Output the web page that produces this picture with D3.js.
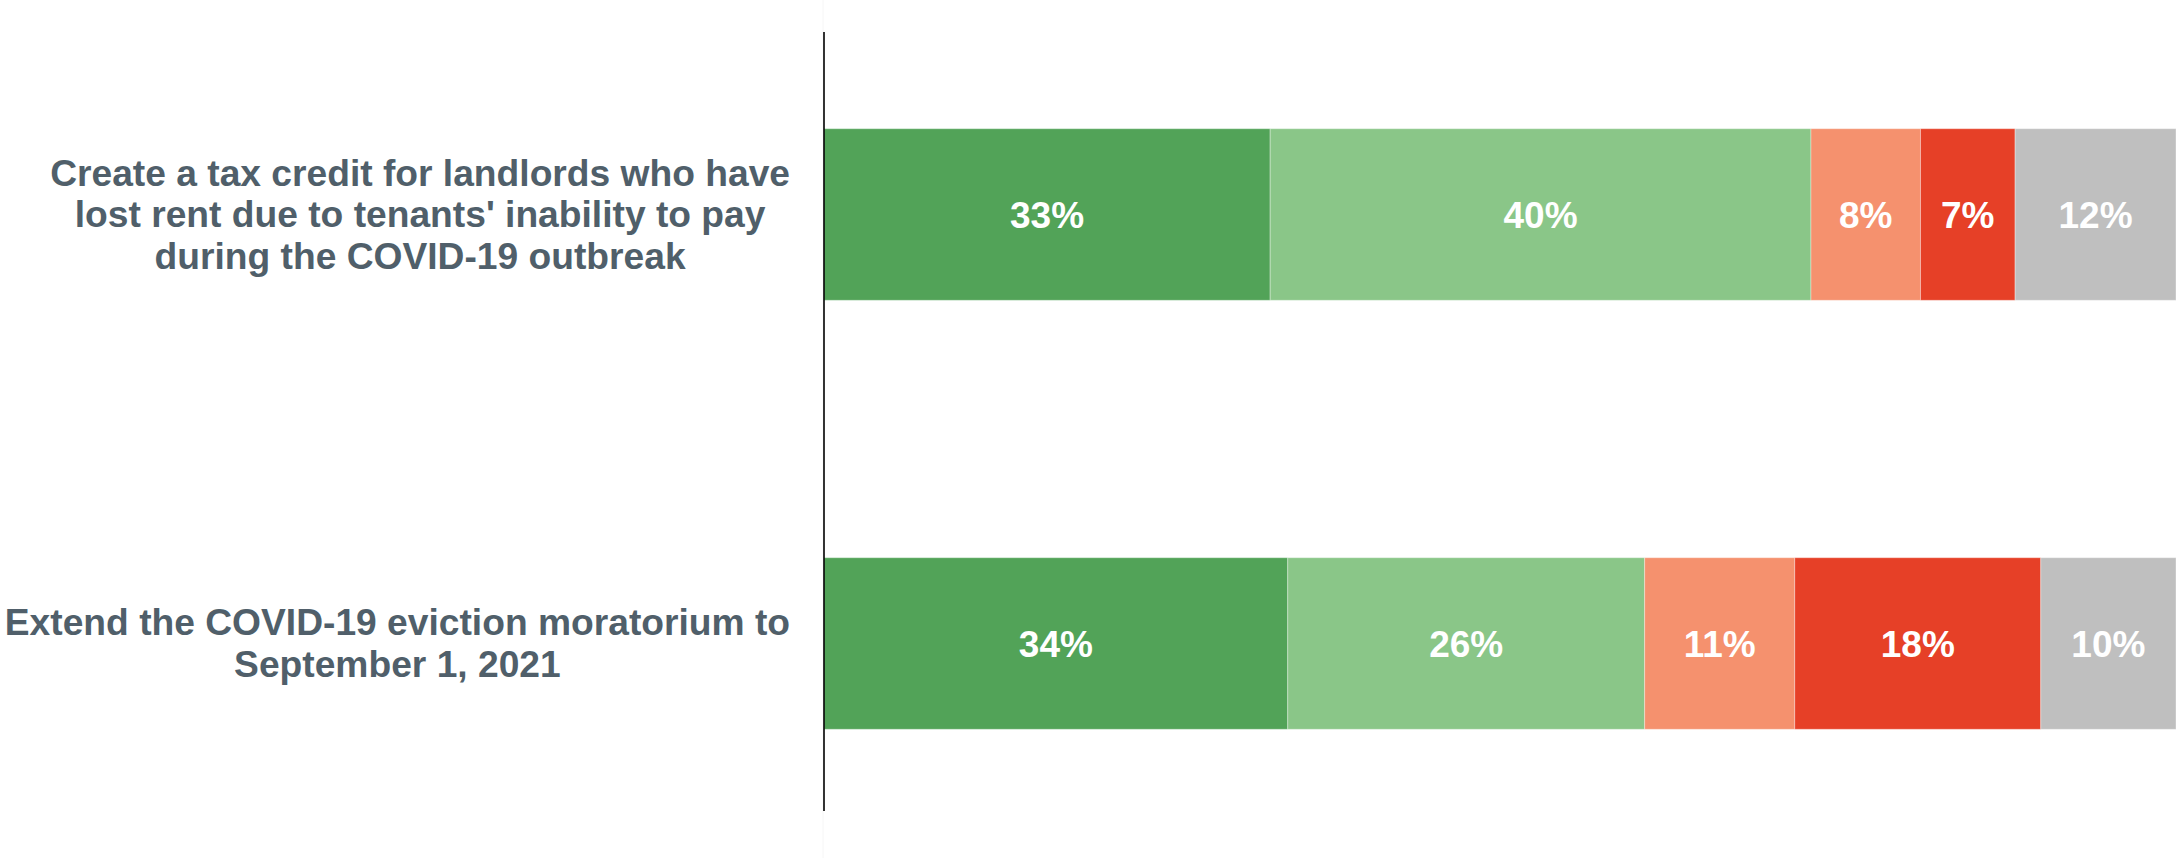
<!DOCTYPE html>
<html><head><meta charset="utf-8">
<script src="https://cdn.jsdelivr.net/npm/d3@7"></script>
<style>html,body{margin:0;padding:0;background:#fff;}svg{display:block;}</style>
</head><body>
<script>
const categories = [
  "Create a tax credit for landlords who have lost rent due to tenants' inability to pay during the COVID-19 outbreak",
  "Extend the COVID-19 eviction moratorium to September 1, 2021"
];
const categoryLines = [
  ["Create a tax credit for landlords who have", "lost rent due to tenants' inability to pay", "during the COVID-19 outbreak"],
  ["Extend the COVID-19 eviction moratorium to", "September 1, 2021"]
];
const seriesKeys = ["s1", "s2", "s3", "s4", "s5"];
const seriesColors = ["#52a358", "#8ac688", "#f5916e", "#e64027", "#bfbfbf"];
const values1 = [0.330, 0.400, 0.081, 0.070, 0.119];
const values2 = [0.343, 0.264, 0.111, 0.182, 0.100];
const labels1 = ["33%", "40%", "8%", "7%", "12%"];
const labels2 = ["34%", "26%", "11%", "18%", "10%"];

const W = 2176, H = 858;
const x0 = 824;
const valueRows = [values1, values2];
const labelRows = [labels1, labels2];
const table = categories.map((c, i) => {
  const o = {category: c, idx: i};
  seriesKeys.forEach((k, j) => o[k] = valueRows[i][j]);
  return o;
});

const svg = d3.select("body").append("svg").attr("width", W).attr("height", H);
const x = d3.scaleLinear().domain([0, 1]).range([x0, W]);
const y = d3.scaleBand().domain(categories).range([0, H]).paddingInner(0.6).paddingOuter(0.3);

svg.append("line").attr("x1", x0 - 1).attr("x2", x0 - 1).attr("y1", 0).attr("y2", H)
  .attr("stroke", "#f6f6f6").attr("stroke-width", 1);

const stack = d3.stack().keys(seriesKeys)(table);
const g = svg.append("g");
stack.forEach((layer, j) => {
  const lg = g.append("g");
  lg.selectAll("rect").data(layer).join("rect")
    .attr("x", d => x(d[0]))
    .attr("y", d => y(d.data.category))
    .attr("width", d => x(d[1]) - x(d[0]))
    .attr("height", y.bandwidth())
    .attr("fill", seriesColors[j])
    .attr("stroke", "rgba(255,255,255,0.35)")
    .attr("stroke-width", 1);
  lg.selectAll("text").data(layer).join("text")
    .attr("x", d => (x(d[0]) + x(d[1])) / 2)
    .attr("y", d => y(d.data.category) + y.bandwidth() / 2)
    .attr("dy", "0.36em")
    .attr("text-anchor", "middle")
    .attr("font-family", "'Liberation Sans', Arial, sans-serif")
    .attr("font-weight", "bold")
    .attr("font-size", 37)
    .attr("fill", "#ffffff")
    .text(d => labelRows[d.data.idx][j]);
});

svg.append("line").attr("x1", x0).attr("x2", x0).attr("y1", 32).attr("y2", 811)
  .attr("stroke", "#000").attr("stroke-width", 1.6);

const lineH = 41.5;
categories.forEach((c, i) => {
  const lines = categoryLines[i];
  const t = svg.append("text")
    .attr("font-family", "'Liberation Sans', Arial, sans-serif")
    .attr("font-weight", "bold")
    .attr("font-size", 37.2)
    .attr("fill", "#505f6a")
    .attr("text-anchor", "middle");
  const cy = y(c) + y.bandwidth() / 2;
  const firstBase = cy - (lines.length - 1) / 2 * lineH + 12.5;
  const spans = lines.map((l, k) => t.append("tspan").attr("y", firstBase + k * lineH).text(l));
  const maxW = d3.max(spans, s => s.node().getComputedTextLength());
  const cx = 790 - maxW / 2;
  spans.forEach(s => s.attr("x", cx));
});
</script>
</body></html>
